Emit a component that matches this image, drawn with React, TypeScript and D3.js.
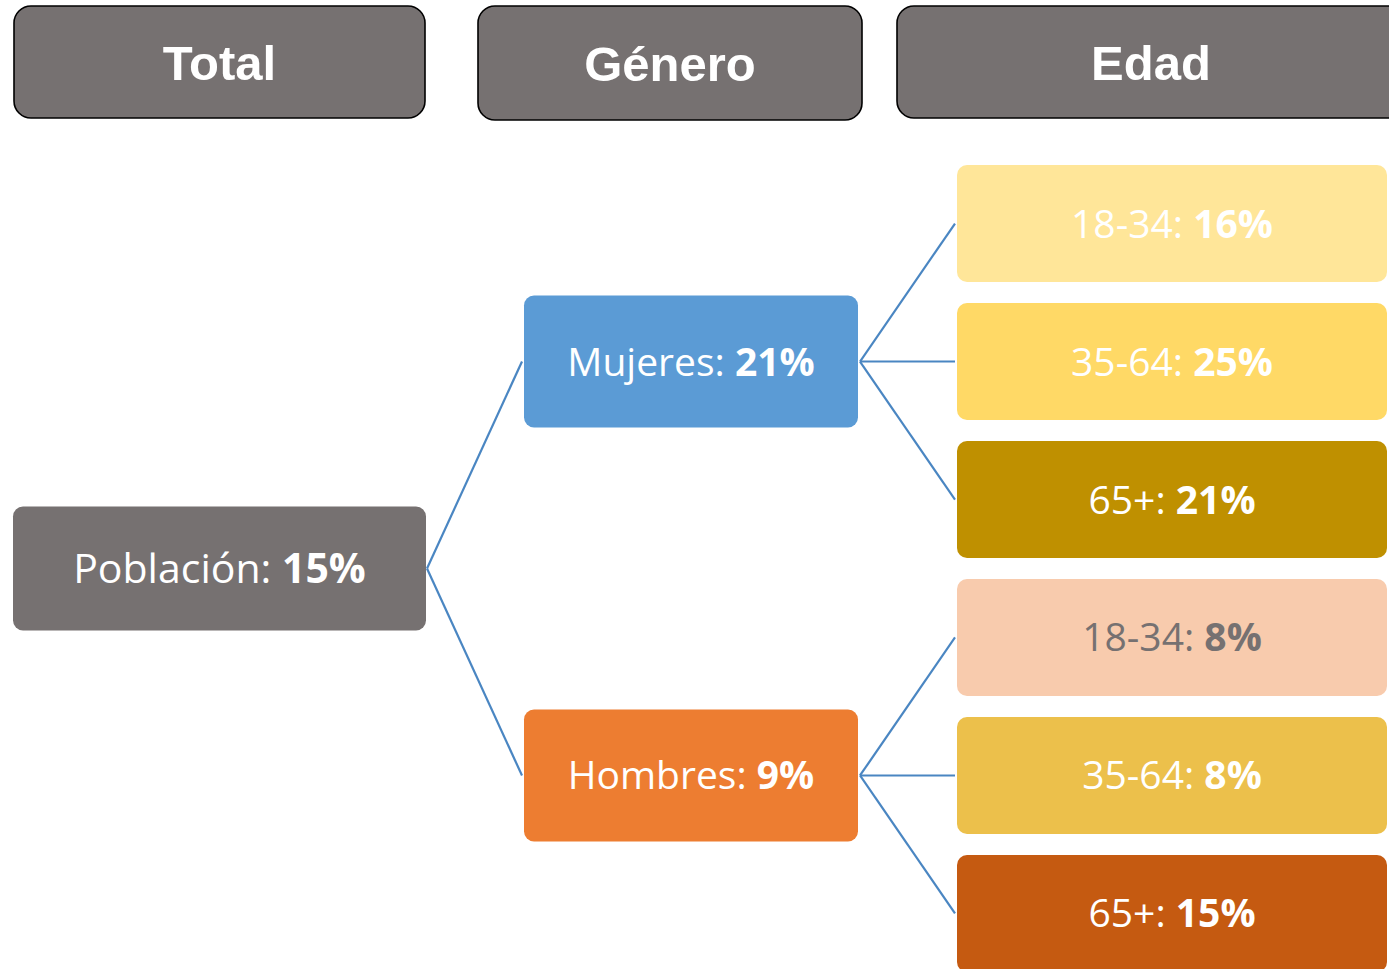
import React from "react";
import * as d3 from "d3";

const headers = ["Total", "Género", "Edad"];
const rootLabel = "Población";
const rootValue = "15%";
const genders = ["Mujeres", "Hombres"];
const genderValues = ["21%", "9%"];
const ageGroups = ["18-34", "35-64", "65+"];
const ageValuesMujeres = ["16%", "25%", "21%"];
const ageValuesHombres = ["8%", "8%", "15%"];
const genderColors = ["#5B9BD5", "#ED7D31"];
const ageColorsMujeres = ["#FFE699", "#FFD966", "#BF9000"];
const ageColorsHombres = ["#F8CBAD", "#ECC04B", "#C55A11"];
const ageTextMujeres = ["#FFFFFF", "#FFFFFF", "#FFFFFF"];
const ageTextHombres = ["#767171", "#FFFFFF", "#FFFFFF"];

const W = 1389;
const H = 969;
const GREY = "#767171";
const LINE = "#4A86C2";
const FONT = "'Open Sans', 'Noto Sans', sans-serif";

export default function App() {
  const leaves = genders.flatMap((g, gi) =>
    ageGroups.map((a, ai) => ({
      key: `${g}-${a}`,
      gi,
      label: a,
      value: gi === 0 ? ageValuesMujeres[ai] : ageValuesHombres[ai],
      fill: gi === 0 ? ageColorsMujeres[ai] : ageColorsHombres[ai],
      color: gi === 0 ? ageTextMujeres[ai] : ageTextHombres[ai],
    }))
  );
  const y = d3
    .scaleBand<string>()
    .domain(leaves.map((d) => d.key))
    .range([165, 972])
    .paddingInner(0.152)
    .paddingOuter(0);
  const bw = y.bandwidth();
  const leafCy = (k: string) => (y(k) as number) + bw / 2;

  const genderCy = genders.map((g, gi) =>
    d3.mean(leaves.filter((l) => l.gi === gi), (l) => leafCy(l.key)) as number
  );
  const rootCy = d3.mean(genderCy) as number;

  const leafX = 957, leafW = 430;
  const gX = 524, gW = 334, gH = 132;
  const rX = 13, rW = 413, rH = 124;

  const headerBoxes = [
    { x: 14, y: 6, w: 411, h: 112 },
    { x: 478, y: 6, w: 384, h: 114 },
    { x: 897, y: 6, w: 510, h: 112 },
  ];

  const link = d3.line<[number, number]>();

  const label = (cx: number, cy: number, a: string, v: string, color: string, size = 40) => (
    <text
      x={cx}
      y={cy - 2}
      textAnchor="middle"
      dominantBaseline="central"
      fontFamily={FONT}
      fontSize={size}
      fill={color}
    >
      <tspan>{a}: </tspan>
      <tspan fontWeight="bold">{v}</tspan>
    </text>
  );

  return (
    <svg
      width={W}
      height={H}
      style={{ position: "absolute", left: 0, top: 0, background: "#fff" }}
    >
      {headers.map((h, i) => {
        const b = headerBoxes[i];
        return (
          <g key={h}>
            <rect
              x={b.x}
              y={b.y}
              width={b.w}
              height={b.h}
              rx={17}
              fill={GREY}
              stroke="#000"
              strokeWidth={1.6}
            />
            <text
              x={i === 2 ? 1151 : b.x + b.w / 2}
              y={b.y + b.h / 2 + 1}
              textAnchor="middle"
              dominantBaseline="central"
              fontFamily="'Liberation Sans', Arial, sans-serif"
              fontWeight="bold"
              fontSize={49}
              fill="#fff"
            >
              {h}
            </text>
          </g>
        );
      })}

      {genders.map((g, gi) => (
        <path
          key={"rl" + g}
          d={link([
            [rX + rW + 1, rootCy],
            [gX - 2, genderCy[gi]],
          ]) as string}
          stroke={LINE}
          strokeWidth={2.2}
          fill="none"
        />
      ))}
      {leaves.map((l) => (
        <path
          key={"ll" + l.key}
          d={link([
            [gX + gW + 2, genderCy[l.gi]],
            [leafX - 2, leafCy(l.key)],
          ]) as string}
          stroke={LINE}
          strokeWidth={2.2}
          fill="none"
        />
      ))}

      <rect x={rX} y={rootCy - rH / 2} width={rW} height={rH} rx={10} fill={GREY} />
      {label(rX + rW / 2, rootCy, rootLabel, rootValue, "#fff", 41)}

      {genders.map((g, gi) => (
        <g key={g}>
          <rect
            x={gX}
            y={genderCy[gi] - gH / 2}
            width={gW}
            height={gH}
            rx={10}
            fill={genderColors[gi]}
          />
          {label(gX + gW / 2, genderCy[gi], g, genderValues[gi], "#fff", 39)}
        </g>
      ))}

      {leaves.map((l) => (
        <g key={l.key}>
          <rect
            x={leafX}
            y={y(l.key) as number}
            width={leafW}
            height={bw}
            rx={10}
            fill={l.fill}
          />
          {label(leafX + leafW / 2, leafCy(l.key), l.label, l.value, l.color, 39)}
        </g>
      ))}
    </svg>
  );
}
